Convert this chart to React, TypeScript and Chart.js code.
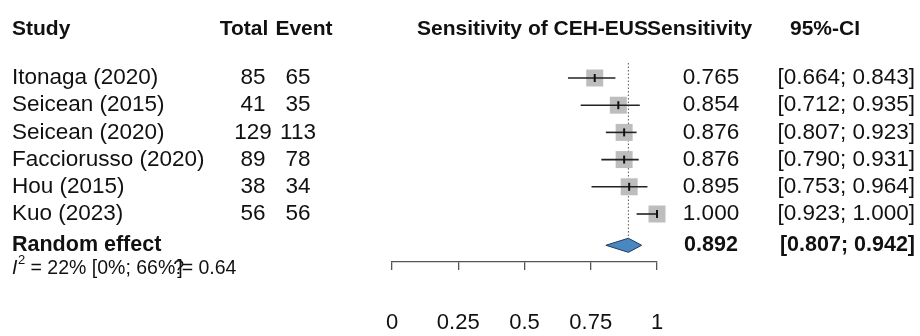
import React, { useEffect, useRef } from "react";
import { Chart, registerables } from "chart.js";
Chart.register(...registerables);

// ---- data ----
const studies = ["Itonaga (2020)", "Seicean (2015)", "Seicean (2020)", "Facciorusso (2020)", "Hou (2015)", "Kuo (2023)"];
const totals = [85, 41, 129, 89, 38, 56];
const events = [65, 35, 113, 78, 34, 56];
const sensitivity = [0.765, 0.854, 0.876, 0.876, 0.895, 1.0];
const ciLower = [0.664, 0.712, 0.807, 0.79, 0.753, 0.923];
const ciUpper = [0.843, 0.935, 0.923, 0.931, 0.964, 1.0];
const pooledLabel = "Random effect";
const pooledEstimate = [0.892];
const pooledLower = [0.807];
const pooledUpper = [0.942];
const columnHeaders = ["Study", "Total", "Event", "Sensitivity of CEH-EUS", "Sensitivity", "95%-CI"];
const hetParts = ["I", "2", " = 22% [0%; 66%", "]", "?", "= 0.64"];
const xTickValues = [0, 0.25, 0.5, 0.75, 1];

// row layout (in row units, 1 unit = one study line)
const ROW_PX = 27.2;
const FIRST_ROW_PX = 78;
const AXIS_PX = 262;
const headerRow = -1.8;
const pooledRow = 6.15;
const hetRow = 7.0;
const refLineTop = -0.55;
const diamondHalf = 0.26;

const FONT = '"Liberation Sans", Arial, Helvetica, sans-serif';

const textPlugin = {
  id: "forestText",
  afterDraw(chart: any) {
    const ctx = chart.ctx as CanvasRenderingContext2D;
    const Y = (v: number) => chart.scales.y.getPixelForValue(v);
    ctx.save();
    ctx.fillStyle = "#111";
    ctx.textBaseline = "middle";
    const put = (t: string, x: number, y: number, align: CanvasTextAlign, bold = false, size = 22.5, italic = false) => {
      ctx.font = `${italic ? "italic " : ""}${bold ? "bold " : ""}${size}px ${FONT}`;
      ctx.textAlign = align;
      ctx.fillText(t, x, y);
      return ctx.measureText(t).width;
    };
    const HB = 21; // header bold size
    const hy = Y(headerRow);
    put(columnHeaders[0], 12, hy, "left", true, HB);
    put(columnHeaders[1], 244, hy, "center", true, HB);
    put(columnHeaders[2], 304, hy, "center", true, HB);
    const w3 = put(columnHeaders[3], 417, hy, "left", true, HB);
    put(columnHeaders[4], 417 + w3 - 1, hy, "left", true, HB);
    put(columnHeaders[5], 825, hy, "center", true, HB);

    studies.forEach((s, i) => {
      const y = Y(i);
      put(s, 12, y, "left");
      put(String(totals[i]), 253, y, "center");
      put(String(events[i]), 298, y, "center");
      put(sensitivity[i].toFixed(3), 711, y, "center");
      put(`[${ciLower[i].toFixed(3)}; ${ciUpper[i].toFixed(3)}]`, 915, y, "right");
    });

    const py = Y(pooledRow);
    put(pooledLabel, 12, py, "left", true, 21.5);
    put(pooledEstimate[0].toFixed(3), 711, py, "center", true, 21.5);
    put(`[${pooledLower[0].toFixed(3)}; ${pooledUpper[0].toFixed(3)}]`, 915, py, "right", true, 21.5);

    // heterogeneity line
    const hyy = Y(hetRow);
    let x = 12;
    x += put(hetParts[0], x, hyy, "left", false, 19.5, true);
    x += put(hetParts[1], x + 0.5, hyy - 7.5, "left", false, 13) + 0.5;
    x += put(hetParts[2], x, hyy, "left", false, 19.5);
    put(hetParts[4], x - 2, hyy, "left", false, 19.5);
    x += put(hetParts[3], x + 2, hyy, "left", false, 19.5);
    put(hetParts[5], x + 1, hyy, "left", false, 19.5);
    ctx.restore();
  },
};

export default function App() {
  const ref = useRef<HTMLCanvasElement | null>(null);
  useEffect(() => {
    document.body.style.margin = "0";
    const canvas = ref.current!;
    const ciDatasets = studies.map((_, i) => ({
      type: "line" as const,
      data: [
        { x: ciLower[i], y: i },
        { x: ciUpper[i], y: i },
      ],
      borderColor: "#222",
      borderWidth: 1.6,
      pointRadius: 0,
      fill: false,
      clip: false as any,
      order: 1,
    }));
    const yMin = -FIRST_ROW_PX / ROW_PX;
    const yMax = yMin + AXIS_PX / ROW_PX;
    const chart = new Chart(canvas, {
      type: "scatter",
      data: {
        datasets: [
          {
            type: "scatter",
            data: sensitivity.map((v, i) => ({ x: v, y: i })),
            pointStyle: "line",
            rotation: 90,
            pointRadius: 4,
            borderWidth: 2,
            borderColor: "#111",
            backgroundColor: "#111",
            clip: false as any,
            order: 0,
          },
          ...ciDatasets,
          {
            type: "scatter",
            data: sensitivity.map((v, i) => ({ x: v, y: i })),
            pointStyle: "rect",
            pointRadius: 12,
            backgroundColor: "#bdbdbd",
            borderWidth: 0,
            clip: false as any,
            order: 2,
          },
          {
            type: "line",
            data: [
              { x: pooledEstimate[0], y: refLineTop },
              { x: pooledEstimate[0], y: pooledRow - diamondHalf },
            ],
            borderColor: "#555",
            borderWidth: 1,
            borderDash: [1.5, 2],
            pointRadius: 0,
            fill: false,
            clip: false as any,
            order: 3,
          },
          {
            type: "line",
            data: [
              { x: pooledLower[0], y: pooledRow },
              { x: pooledEstimate[0], y: pooledRow - diamondHalf },
              { x: pooledUpper[0], y: pooledRow },
              { x: pooledEstimate[0], y: pooledRow + diamondHalf },
              { x: pooledLower[0], y: pooledRow },
            ],
            borderColor: "#1e3a5a",
            borderWidth: 1,
            backgroundColor: "#4a86c0",
            fill: "shape" as any,
            tension: 0,
            pointRadius: 0,
            clip: false as any,
            order: 0,
          },
        ] as any,
      },
      options: {
        responsive: false,
        animation: false,
        devicePixelRatio: 1,
        events: [],
        layout: { autoPadding: false, padding: { left: 392, right: 263, top: 0, bottom: 0 } },
        plugins: { legend: { display: false }, tooltip: { enabled: false } },
        scales: {
          x: {
            type: "linear",
            min: 0,
            max: 1,
            afterBuildTicks: (axis: any) => {
              axis.ticks = xTickValues.map((v) => ({ value: v }));
            },
            afterFit: (axis: any) => {
              axis.height = 336 - AXIS_PX;
            },
            ticks: {
              autoSkip: false,
              padding: 42,
              color: "#111",
              font: { family: FONT, size: 22, lineHeight: 1 },
              callback: (v: any) => String(v),
            },
            grid: {
              display: true,
              drawOnChartArea: false,
              drawTicks: true,
              tickLength: 8,
              color: "#555",
              lineWidth: 1.3,
            },
            border: { display: true, color: "#555", width: 1.3 },
          },
          y: {
            type: "linear",
            display: false,
            reverse: true,
            min: yMin,
            max: yMax,
          },
        },
      },
      plugins: [textPlugin],
    });
    return () => chart.destroy();
  }, []);
  return <canvas ref={ref} width={920} height={336} style={{ display: "block" }} />;
}
